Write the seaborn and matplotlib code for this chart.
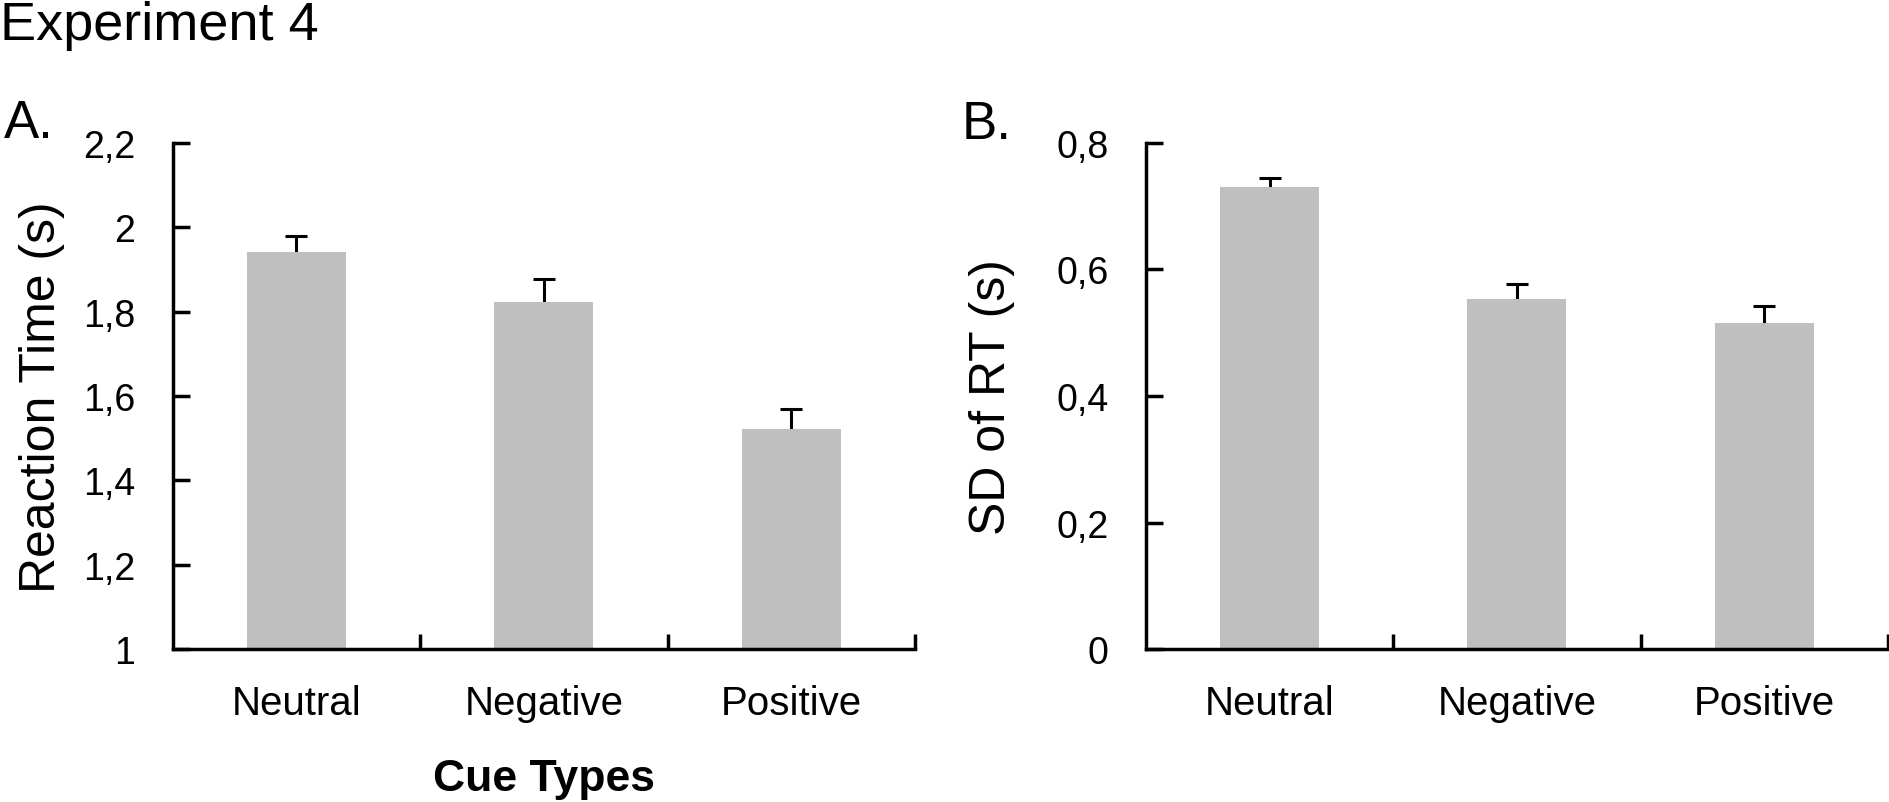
import numpy as np
import pandas as pd
import seaborn as sns
import matplotlib.pyplot as plt
from matplotlib.ticker import FixedLocator

# data
cue_types = ["Neutral", "Negative", "Positive"]
rt_mean = [1.942, 1.823, 1.521]
rt_se = [0.037, 0.054, 0.049]
sd_mean = [0.731, 0.554, 0.516]
sd_se = [0.014, 0.023, 0.027]

rt_ticks = [1.0, 1.2, 1.4, 1.6, 1.8, 2.0, 2.2]
rt_ticklabels = ["1", "1,2", "1,4", "1,6", "1,8", "2", "2,2"]
sd_ticks = [0.0, 0.2, 0.4, 0.6, 0.8]
sd_ticklabels = ["0", "0,2", "0,4", "0,6", "0,8"]

sns.set_theme(style="white")
plt.rcParams["font.family"] = ["Liberation Sans", "DejaVu Sans"]
plt.rcParams["text.color"] = "black"
plt.rcParams["axes.labelcolor"] = "black"
plt.rcParams["xtick.color"] = "black"
plt.rcParams["ytick.color"] = "black"

df = pd.DataFrame({"cue": cue_types, "rt": rt_mean, "sd": sd_mean})

fig = plt.figure(figsize=(18.9, 8.03), dpi=100)
axA = fig.add_axes([0.0914, 0.1905, 0.3927, 0.6302])
axB = fig.add_axes([0.6063, 0.1905, 0.3926, 0.6302])


def panel(ax, col, err, ticks, ticklabels, ylabel):
    sns.barplot(data=df, x="cue", y=col, ax=ax, color="#bfbfbf",
                saturation=1, width=0.4, errorbar=None, linewidth=0)
    # one-sided error bars, only the upper cap
    eb = ax.errorbar(cue_types, df[col], yerr=[np.zeros(len(err)), err],
                     fmt="none", ecolor="black", elinewidth=2.2, capsize=8,
                     capthick=2.2, zorder=0.9)
    eb[1][0].set_visible(False)
    ax.set_xlim(-0.5, 2.5)
    ax.set_ylim(ticks[0], ticks[-1])
    ax.yaxis.set_major_locator(FixedLocator(ticks))
    ax.set_yticklabels(ticklabels)
    ax.xaxis.set_minor_locator(FixedLocator([0.5, 1.5, 2.5]))
    ax.tick_params(axis="y", direction="in", length=12, width=2.5,
                   labelsize=27, pad=27, left=True)
    ax.tick_params(axis="x", which="major", length=0, labelsize=29, pad=25)
    ax.tick_params(axis="x", which="minor", direction="in", length=11,
                   width=2.5, bottom=True)
    for s in ["top", "right"]:
        ax.spines[s].set_visible(False)
    for s in ["left", "bottom"]:
        ax.spines[s].set_linewidth(2.5)
        ax.spines[s].set_color("black")
    ax.set_ylabel(ylabel, fontsize=36)
    ax.set_xlabel("")


panel(axA, "rt", rt_se, rt_ticks, rt_ticklabels, "Reaction Time (s)")
panel(axB, "sd", sd_se, sd_ticks, sd_ticklabels, "SD of RT (s)")

axA.yaxis.set_label_coords(-0.145, 0.5)
axB.yaxis.set_label_coords(-0.1766, 0.5)

axA.set_xlabel("Cue Types", fontsize=32, fontweight="bold", labelpad=26)

fig.text(0.0, 0.9502, "Experiment 4", fontsize=39, va="baseline")
fig.text(0.002, 0.8281, "A.", fontsize=38, va="baseline")
fig.text(0.509, 0.8269, "B.", fontsize=38, va="baseline")

fig.savefig("out.png", dpi=100)
